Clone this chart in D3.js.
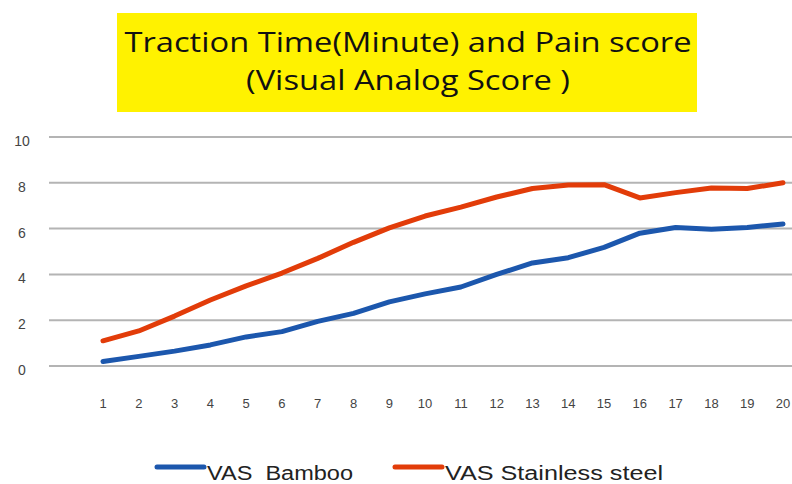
<!DOCTYPE html>
<html>
<head>
<meta charset="utf-8">
<script src="https://cdn.jsdelivr.net/npm/d3@7"></script>
<style>
  body { margin: 0; background: #fff; }
  svg { display: block; }
</style>
</head>
<body>
<div class="canvas"></div>
<script>
// DATA
const minutes = d3.range(1, 21);
const vasBamboo = [0.2, 0.42, 0.65, 0.92, 1.27, 1.5, 1.95, 2.3, 2.8, 3.15, 3.45, 4.0, 4.5, 4.73, 5.18, 5.8, 6.05, 5.97, 6.05, 6.2];
const vasSteel = [1.1, 1.53, 2.18, 2.88, 3.5, 4.06, 4.7, 5.4, 6.03, 6.55, 6.94, 7.38, 7.75, 7.9, 7.92, 7.34, 7.57, 7.77, 7.75, 8.0];
const yTicks = [0, 2, 4, 6, 8, 10];
const seriesNames = ['VAS  Bamboo', 'VAS Stainless steel'];
const titleLines = ['Traction Time(Minute) and Pain score', '(Visual Analog Score )'];

const dims = { width: 792, height: 484 };
const colors = ['#1c57ad', '#e23c09'];

const svg = d3
  .select('.canvas')
  .append('svg')
  .attr('width', dims.width)
  .attr('height', dims.height);

// SCALES
const x = d3.scalePoint().domain(minutes).range([103, 783]);
const y = d3.scaleLinear().domain([0, 10]).range([366, 137]);

// TITLE BOX
svg.append('rect')
  .attr('x', 117).attr('y', 13)
  .attr('width', 580).attr('height', 99)
  .attr('fill', '#fff200');

const titleW = [567, 324];
svg.selectAll('text.title')
  .data(titleLines)
  .enter()
  .append('text')
  .attr('class', 'title')
  .attr('x', 408)
  .attr('y', (d, i) => 52 + i * 38)
  .attr('text-anchor', 'middle')
  .attr('font-family', '"Open Sans", Lato, sans-serif')
  .attr('font-size', 27)
  .attr('font-weight', 500)
  .attr('fill', '#111')
  .attr('textLength', (d, i) => titleW[i])
  .attr('lengthAdjust', 'spacingAndGlyphs')
  .text((d) => d);

// GRIDLINES + Y LABELS
const grid = svg.append('g');
grid.selectAll('line')
  .data(yTicks)
  .enter()
  .append('line')
  .attr('x1', 49).attr('x2', 792)
  .attr('y1', (d) => y(d)).attr('y2', (d) => y(d))
  .attr('stroke', '#b4b4b4')
  .attr('stroke-width', 2);

grid.selectAll('text')
  .data(yTicks)
  .enter()
  .append('text')
  .attr('x', 22)
  .attr('y', (d) => y(d) + 9)
  .attr('text-anchor', 'middle')
  .attr('font-family', '"Liberation Sans", Arial, sans-serif')
  .attr('font-size', 14)
  .attr('fill', '#444')
  .text((d) => d);

// X LABELS
svg.append('g')
  .selectAll('text')
  .data(minutes)
  .enter()
  .append('text')
  .attr('x', (d) => x(d))
  .attr('y', 408)
  .attr('text-anchor', 'middle')
  .attr('font-family', '"Liberation Sans", Arial, sans-serif')
  .attr('font-size', 13)
  .attr('fill', '#444')
  .text((d) => d);

// LINES
const line = d3.line()
  .x((d, i) => x(minutes[i]))
  .y((d) => y(d));

svg.selectAll('path.series')
  .data([vasBamboo, vasSteel])
  .enter()
  .append('path')
  .attr('class', 'series')
  .attr('d', line)
  .attr('fill', 'none')
  .attr('stroke', (d, i) => colors[i])
  .attr('stroke-width', 5)
  .attr('stroke-linecap', 'round')
  .attr('stroke-linejoin', 'round');

// LEGEND
const legendX = [157, 395];
const legendW = [146, 218];
const legend = svg.selectAll('g.legend')
  .data(seriesNames)
  .enter()
  .append('g')
  .attr('class', 'legend')
  .attr('transform', (d, i) => `translate(${legendX[i]}, 467)`);

legend.append('line')
  .attr('x1', 0).attr('x2', 47)
  .attr('y1', 0).attr('y2', 0)
  .attr('stroke', (d, i) => colors[i])
  .attr('stroke-width', 5)
  .attr('stroke-linecap', 'round');

legend.append('text')
  .attr('x', 50)
  .attr('y', 13)
  .attr('font-family', '"Liberation Sans", Arial, sans-serif')
  .attr('font-size', 20)
  .attr('fill', '#222')
  .style('white-space', 'pre')
  .attr('textLength', (d, i) => legendW[i])
  .attr('lengthAdjust', 'spacingAndGlyphs')
  .text((d) => d);
</script>
</body>
</html>
